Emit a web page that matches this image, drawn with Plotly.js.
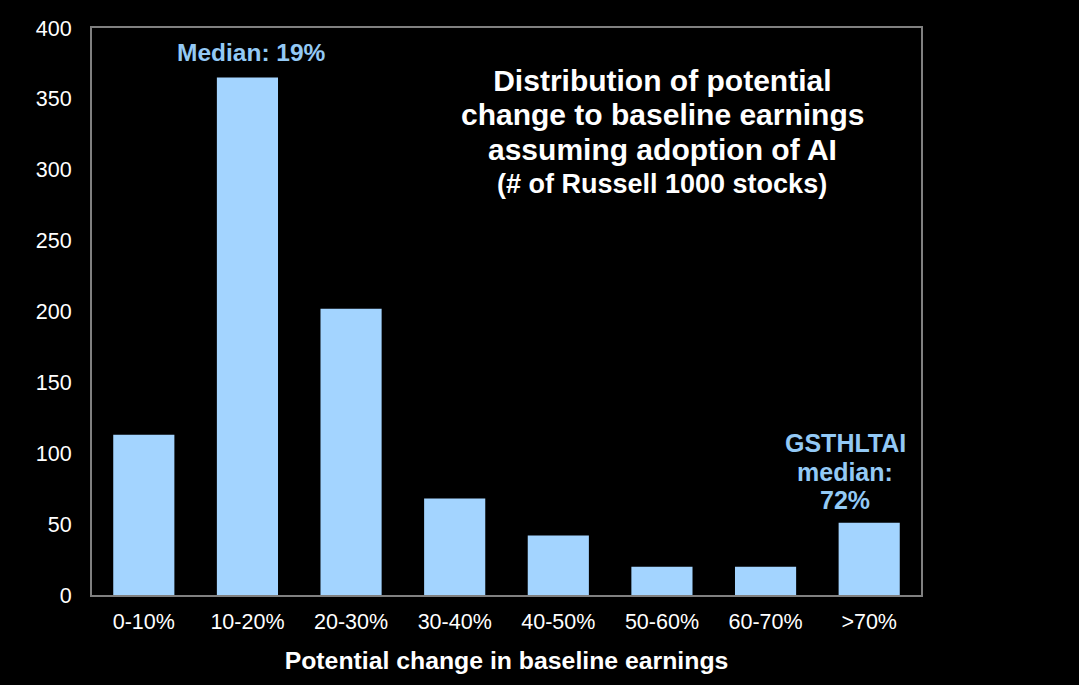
<!DOCTYPE html>
<html>
<head>
<meta charset="utf-8">
<script src="https://cdn.plot.ly/plotly-3.0.1.min.js"></script>
<style>html,body{margin:0;padding:0;background:#000;}#chart{width:1079px;height:685px;}</style>
</head>
<body>
<div id="chart"></div>
<script>
const categories = ["0-10%", "10-20%", "20-30%", "30-40%", "40-50%", "50-60%", "60-70%", ">70%"];
const stockCounts = [113, 365, 202, 68, 42, 20, 20, 51];
const yTickValues = [0, 50, 100, 150, 200, 250, 300, 350, 400];
const titleLines = ["Distribution of potential", "change to baseline earnings", "assuming adoption of AI", "(# of Russell 1000 stocks)"];
const noteLines = ["GSTHLTAI", "median:", "72%"];

const FONT = "Liberation Sans, Arial, sans-serif";
const BAR = "#a3d4ff";
const NOTE = "#93c9f5";

const trace = {
  type: "bar",
  x: categories,
  y: stockCounts,
  marker: {color: BAR, line: {width: 0}},
  hoverinfo: "x+y"
};

// title lines placed with tighter spacing than Plotly's default line height
const titleY = [0.908, 0.848, 0.785, 0.725];
const titleSize = [30, 30, 30, 27];
const titleAnns = titleLines.slice(1).map((t, i) => ({
  xref: "paper", yref: "paper", x: 0.688, y: titleY[i + 1],
  xanchor: "center", yanchor: "middle", showarrow: false,
  text: "<b>" + t + "</b>",
  font: {family: FONT, size: titleSize[i + 1], color: "#fff"}
}));

const noteY = [107, 86.5, 67];
const noteAnns = noteLines.map((t, i) => ({
  xref: "x", yref: "y", x: categories[categories.length - 1], y: noteY[i],
  xshift: -24, xanchor: "center", yanchor: "middle", showarrow: false,
  text: "<b>" + t + "</b>",
  font: {family: FONT, size: 25, color: NOTE}
}));

const layout = {
  width: 1079, height: 685,
  paper_bgcolor: "#000", plot_bgcolor: "#000",
  margin: {l: 92, r: 158, t: 28, b: 90},
  font: {family: FONT, color: "#fff", size: 21},
  showlegend: false,
  bargap: 0.41,
  title: {
    text: "<b>" + titleLines[0] + "</b>",
    font: {family: FONT, size: 30, color: "#fff"},
    xref: "paper", yref: "paper",
    x: 0.688, xanchor: "center",
    y: titleY[0], yanchor: "middle"
  },
  xaxis: {
    type: "category",
    showline: true, linecolor: "#808080", linewidth: 2, mirror: true,
    showgrid: false, zeroline: false,
    ticks: "outside", ticklen: 6, tickcolor: "rgba(0,0,0,0)",
    tickfont: {family: FONT, size: 21.5, color: "#fff"},
    title: {text: "<b>Potential change in baseline earnings</b>", font: {family: FONT, size: 24.8, color: "#fff"}, standoff: 19}
  },
  yaxis: {
    range: [0, 400],
    tickvals: yTickValues,
    showline: true, linecolor: "#808080", linewidth: 2, mirror: true,
    showgrid: false, zeroline: false,
    ticks: "outside", ticklen: 14, tickcolor: "rgba(0,0,0,0)",
    tickfont: {family: FONT, size: 21.5, color: "#fff"}
  },
  annotations: [
    {
      x: "10-20%", y: 382.5, xref: "x", yref: "y",
      text: "<b>Median: 19%</b>", showarrow: false,
      xshift: 4,
      font: {family: FONT, size: 24.5, color: NOTE},
      xanchor: "center", yanchor: "middle"
    }
  ].concat(titleAnns, noteAnns)
};

Plotly.newPlot("chart", [trace], layout, {displayModeBar: false, staticPlot: true});
</script>
</body>
</html>
